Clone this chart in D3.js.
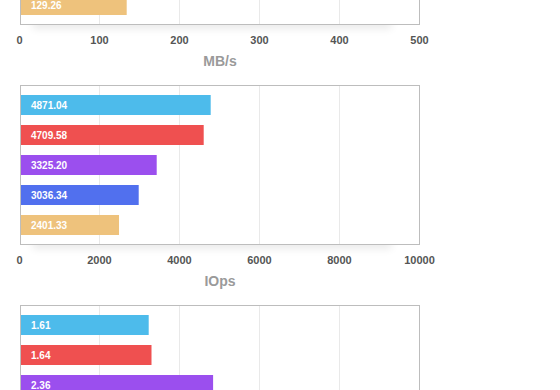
<!DOCTYPE html>
<html>
<head>
<meta charset="utf-8">
<script src="https://cdn.jsdelivr.net/npm/d3@7"></script>
<style>
    html, body { margin: 0; padding: 0; background: #fff; overflow: hidden; }
    svg { display: block; font-family: "Liberation Sans", Arial, Helvetica, sans-serif; }
    .grid line { stroke: #e9e9e9; }
    .tick-label { fill: #555; font-size: 11px; font-weight: bold; }
    .axis-title { fill: #9a9a9a; font-size: 14px; font-weight: bold; }
    .bar-label { fill: #fff; font-size: 10px; font-weight: bold; }
</style>
</head>
<body>
<svg id="bench" width="560" height="390"></svg>
<script>
    // one colour per configuration, same order in every panel
    var barColors = ["#4dbbeb", "#ef5050", "#9b4fee", "#5170ee", "#eec27c"];

    // panel 1 (MB/s): only the last bar is inside the picture
    var mbsBars = [null, null, null, null, 134];
    var mbsLabels = [null, null, null, null, "129.26"];
    var mbsTicks = [0, 100, 200, 300, 400, 500];

    // panel 2 (IOps)
    var iopsBars = [4780, 4605, 3430, 2980, 2488];
    var iopsLabels = ["4871.04", "4709.58", "3325.20", "3036.34", "2401.33"];
    var iopsTicks = [0, 2000, 4000, 6000, 8000, 10000];

    // panel 3 (cut off at the bottom, its axis is not visible)
    var latBars = [1.615, 1.65, 2.42, null, null];
    var latLabels = ["1.61", "1.64", "2.36", null, null];
    var latTicks = [0, 1, 2, 3, 4, 5];

    var panels = [
        {bars: mbsBars, labels: mbsLabels, ticks: mbsTicks, title: "MB/s"},
        {bars: iopsBars, labels: iopsLabels, ticks: iopsTicks, title: "IOps"},
        {bars: latBars, labels: latLabels, ticks: latTicks, title: null}
    ];

    var svg = d3.select("svg#bench");
    var viewH = +svg.attr("height");
    var left = 20.5, right = 419.5, frameH = 159, period = 220, firstTop = -134.5;

    var defs = svg.append("defs");
    defs.append("filter")
        .attr("id", "soft")
        .attr("x", "-20%").attr("y", "-200%")
        .attr("width", "140%").attr("height", "500%")
        .append("feGaussianBlur")
        .attr("stdDeviation", 4);

    panels.forEach(function (p, i) {
        drawPanel(p, firstTop + i * period);
    });

    function drawPanel(p, top) {
        var g = svg.append("g");
        var bottom = top + frameH;

        var x = d3.scaleLinear()
            .domain([p.ticks[0], p.ticks[p.ticks.length - 1]])
            .range([left - 1, right]);

        var y = d3.scaleBand()
            .domain(d3.range(p.bars.length))
            .range([top + 0.5, bottom - 0.5])
            .paddingInner(1 / 3)
            .paddingOuter(0.3);

        // soft shadow under the frame
        g.append("rect")
            .attr("x", left + 12)
            .attr("y", bottom - 6)
            .attr("width", right - left - 40)
            .attr("height", 10)
            .attr("fill", "#000")
            .attr("opacity", 0.09)
            .attr("filter", "url(#soft)");

        g.append("rect")
            .attr("x", left)
            .attr("y", top)
            .attr("width", right - left)
            .attr("height", frameH)
            .attr("fill", "#fff");

        g.append("g")
            .attr("class", "grid")
            .selectAll("line")
            .data(p.ticks.slice(1, -1))
            .enter().append("line")
            .attr("x1", function (d) { return x(d); })
            .attr("x2", function (d) { return x(d); })
            .attr("y1", top)
            .attr("y2", bottom);

        var rows = p.bars.map(function (v, k) {
            return {k: k, value: v, label: p.labels[k]};
        }).filter(function (d) { return d.value !== null; });

        g.selectAll(".bar")
            .data(rows)
            .enter().append("rect")
            .attr("class", "bar")
            .attr("x", left + 0.5)
            .attr("y", function (d) { return y(d.k); })
            .attr("width", function (d) { return x(d.value) - left - 0.5; })
            .attr("height", y.bandwidth())
            .attr("fill", function (d) { return barColors[d.k]; });

        g.selectAll(".bar-label")
            .data(rows)
            .enter().append("text")
            .attr("class", "bar-label")
            .attr("x", left + 10.5)
            .attr("y", function (d) { return y(d.k) + y.bandwidth() / 2; })
            .attr("dy", "0.35em")
            .text(function (d) { return d.label; });

        g.append("rect")
            .attr("x", left)
            .attr("y", top)
            .attr("width", right - left)
            .attr("height", frameH)
            .attr("fill", "none")
            .attr("stroke", "#bdbdbd")
            .attr("stroke-width", 1);

        // axis text only where it falls inside the picture
        if (bottom + 19.5 > viewH) return;

        g.selectAll(".tick-label")
            .data(p.ticks)
            .enter().append("text")
            .attr("class", "tick-label")
            .attr("x", function (d) { return x(d); })
            .attr("y", bottom + 19.5)
            .attr("text-anchor", "middle")
            .text(function (d) { return d; });

        if (p.title) {
            g.append("text")
                .attr("class", "axis-title")
                .attr("x", (left + right) / 2)
                .attr("y", bottom + 41.5)
                .attr("text-anchor", "middle")
                .text(p.title);
        }
    }
</script>
</body>
</html>
